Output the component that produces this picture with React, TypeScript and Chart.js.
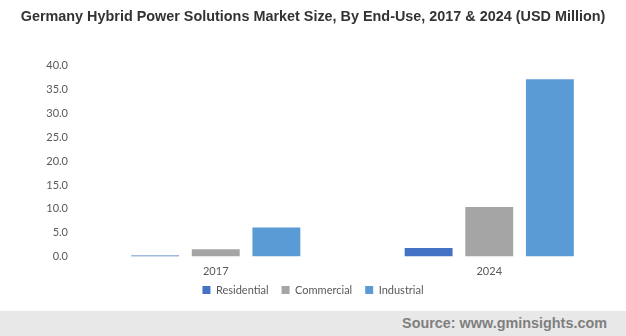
import React, { useEffect, useRef } from "react";
import { Chart, registerables } from "chart.js";

Chart.register(...registerables);

const TITLE = "Germany Hybrid Power Solutions Market Size, By End-Use, 2017 & 2024 (USD Million)";
const SOURCE = "Source: www.gminsights.com";
const categories = ["2017", "2024"];
const seriesNames = ["Residential", "Commercial", "Industrial"];
const residential = [0.2, 1.8];
const commercial = [1.5, 10.4];
const industrial = [6.1, 37.2];
const seriesColors = ["#4472C4", "#A5A5A5", "#5B9BD5"];
const yMin = 0;
const yMax = 40;
const yStep = 5;

const legendLift = {
  id: "legendLift",
  afterLayout(chart: any) {
    const l = chart.legend;
    if (l) {
      l.top -= 7;
      l.bottom -= 7;
    }
  },
};

export default function App() {
  const ref = useRef<HTMLCanvasElement | null>(null);

  useEffect(() => {
    document.body.style.margin = "0";
    const canvas = ref.current;
    if (!canvas) return;
    const values = [residential, commercial, industrial];
    const chart = new Chart(canvas, {
      type: "bar",
      data: {
        labels: categories,
        datasets: seriesNames.map((name, i) => ({
          label: name,
          data: values[i],
          backgroundColor: seriesColors[i],
          borderWidth: 0,
          categoryPercentage: 0.665,
          barPercentage: 0.79,
        })),
      },
      plugins: [legendLift],
      options: {
        animation: false,
        responsive: false,
        maintainAspectRatio: false,
        layout: { padding: { left: 0, right: 0, top: 0, bottom: 0 } },
        plugins: {
          title: {
            display: true,
            text: TITLE,
            color: "#333333",
            font: { family: "'Liberation Sans', Arial, sans-serif", size: 14.4, weight: "bold" },
            padding: { top: 8.5, bottom: 40 },
          },
          legend: {
            position: "bottom",
            maxHeight: 32.5,
            labels: {
              boxWidth: 8,
              boxHeight: 8,
              color: "#595959",
              font: { family: "Lato, 'Open Sans', sans-serif", size: 11 },
              padding: 13,
            },
          },
          tooltip: { enabled: false },
        },
        scales: {
          x: {
            grid: { display: false, drawTicks: false },
            border: { display: false },
            ticks: {
              color: "#595959",
              font: { family: "Lato, 'Open Sans', sans-serif", size: 11 },
              padding: 8,
            },
            afterFit: (scale: any) => {
              scale.height = 22;
            },
          },
          y: {
            min: yMin,
            max: yMax,
            grid: { display: false, drawTicks: false },
            border: { display: false },
            ticks: {
              stepSize: yStep,
              color: "#595959",
              font: { family: "Lato, 'Open Sans', sans-serif", size: 11 },
              padding: 11,
              callback: (v: any) => Number(v).toFixed(1),
            },
            afterFit: (scale: any) => {
              scale.width = 79;
            },
          },
        },
      },
    });
    return () => chart.destroy();
  }, []);

  return (
    <div style={{ position: "fixed", left: 0, top: 0, width: 626, height: 336, background: "#fff" }}>
      <canvas ref={ref} width={626} height={311} style={{ display: "block", width: 626, height: 311 }} />
      <div
        style={{
          position: "absolute",
          left: 0,
          top: 311,
          width: 626,
          height: 25,
          background: "#E8E8E8",
          color: "#7F7F7F",
          fontFamily: "'Liberation Sans', Arial, sans-serif",
          fontWeight: "bold",
          fontSize: 14.4,
          lineHeight: "25px",
          textAlign: "right",
          paddingRight: 19,
          boxSizing: "border-box",
        }}
      >
        {SOURCE}
      </div>
    </div>
  );
}
